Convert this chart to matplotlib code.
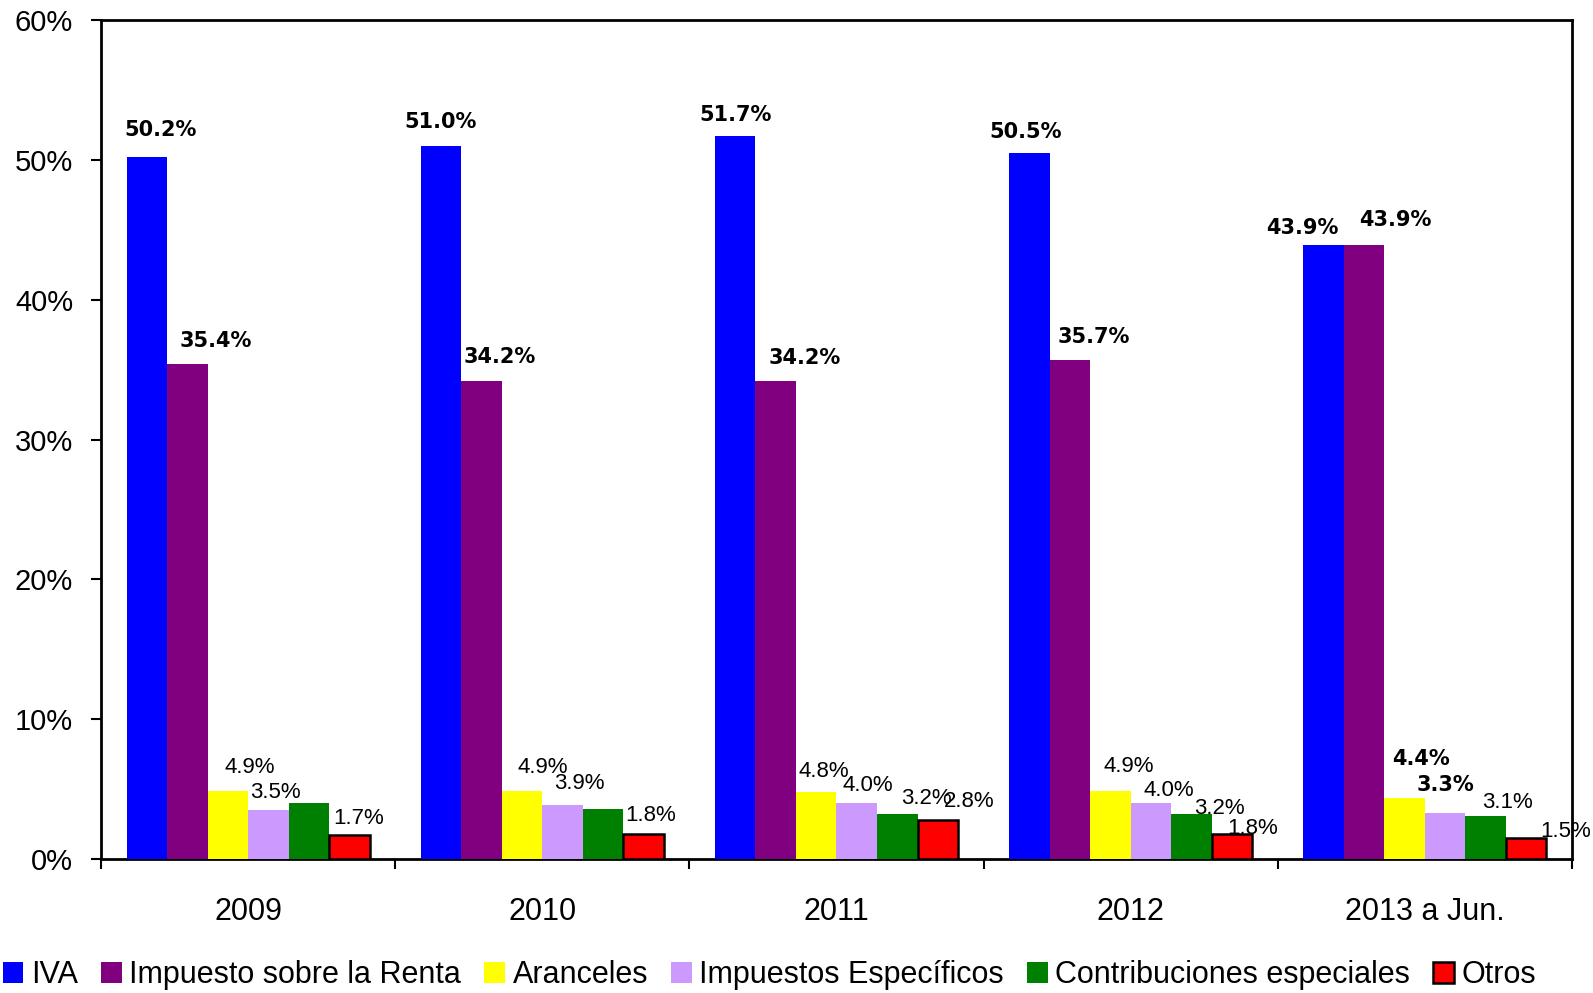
import numpy as np
import matplotlib.pyplot as plt

# data (share of tax revenue, %)
years = ["2009", "2010", "2011", "2012", "2013 a Jun."]
series = ["IVA", "Impuesto sobre la Renta", "Aranceles", "Impuestos Específicos",
          "Contribuciones especiales", "Otros"]
iva = [50.2, 51.0, 51.7, 50.5, 43.9]
renta = [35.4, 34.2, 34.2, 35.7, 43.9]
aranceles = [4.9, 4.9, 4.8, 4.9, 4.4]
especificos = [3.5, 3.9, 4.0, 4.0, 3.3]
contribuciones = [4.0, 3.6, 3.2, 3.2, 3.1]
otros = [1.7, 1.8, 2.8, 1.8, 1.5]

values = [iva, renta, aranceles, especificos, contribuciones, otros]
colors = ["#0000FF", "#800080", "#FFFF00", "#CC99FF", "#008000", "#FF0000"]

# label placement (pixel offsets from bar top centre), None = no label
label_offsets = [
    [(14, 21), (0, 18), (0, 15), (-4, 15), (-21, 11)],
    [(28, 17), (18, 18), (29, 17), (24, 17), (31, 19)],
    [(22, 18), (21, 18), (8, 15), (18, 19), (16, 33)],
    [(7, 12), (17, 16), (11, 12), (18, 7), (0, 22)],
    [None, None, (29, 10), (28, 0), (22, 8)],
    [(9, 11), (7, 13), (31, 13), (21, 0), (39, 1)],
]
bold_labels = {(0, i) for i in range(5)} | {(1, i) for i in range(5)} | {(2, 4), (3, 4)}

fig = plt.figure(figsize=(15.93, 9.93), dpi=100)
ax = fig.add_axes([0.0634, 0.1349, 0.9234, 0.845])

x = np.arange(len(years))
bw = 0.1377
handles = []
for j, (vals, col) in enumerate(zip(values, colors)):
    pos = x + (j - 2.5) * bw
    if series[j] == "Otros":
        b = ax.bar(pos, vals, bw, color=col, edgecolor="black", linewidth=1.8,
                   label=series[j], zorder=3)
    else:
        b = ax.bar(pos, vals, bw, color=col, linewidth=0, label=series[j], zorder=3)
    handles.append(b)
    for i, v in enumerate(vals):
        off = label_offsets[j][i]
        if off is None:
            continue
        if (j, i) in bold_labels:
            ax.annotate(f"{v:.1f}%", (pos[i], v), xytext=off, textcoords="offset pixels",
                        ha="center", va="baseline", fontsize=15, fontweight="bold",
                        family="DejaVu Sans", color="black", zorder=4)
        else:
            ax.annotate(f"{v:.1f}%", (pos[i], v), xytext=off, textcoords="offset pixels",
                        ha="center", va="baseline", fontsize=16,
                        family="Liberation Sans", color="black", zorder=4)

ax.set_xlim(-0.5, 4.5)
ax.set_ylim(0, 60)
ax.set_yticks(np.arange(0, 61, 10))
ax.set_yticklabels([f"{t}%" for t in range(0, 61, 10)], fontsize=21, family="Liberation Sans")
ax.set_xticks(np.arange(-0.5, 5, 1))
ax.set_xticklabels([])
ax.set_xticks(x, minor=True)
ax.set_xticklabels(years, minor=True, fontsize=22, family="Liberation Sans")
ax.tick_params(axis="x", which="major", direction="out", length=7, width=1.5)
ax.tick_params(axis="x", which="minor", length=0, pad=27)
ax.tick_params(axis="y", direction="out", length=7, width=1.5, pad=13)
for s in ax.spines.values():
    s.set_linewidth(2)
    s.set_color("black")

fig.legend(handles=handles, labels=series, loc="center", bbox_to_anchor=(0.483, 0.018),
           ncol=6, frameon=False, prop={"family": "Liberation Sans", "size": 22},
           handlelength=0.68, handleheight=0.68, handletextpad=0.25,
           columnspacing=0.75, borderpad=0, borderaxespad=0)

fig.savefig("out.png", dpi=100)
